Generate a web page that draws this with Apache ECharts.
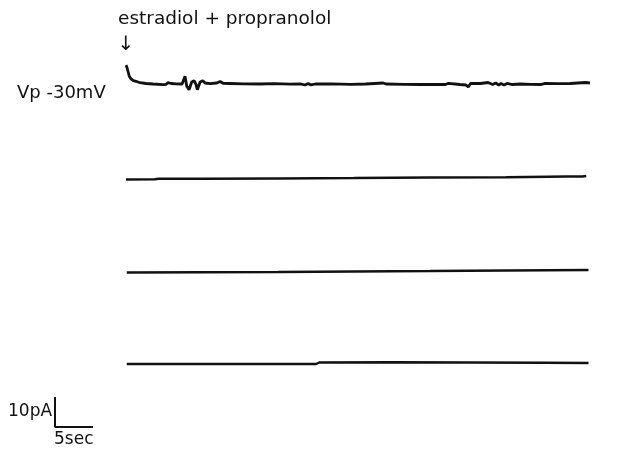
<!DOCTYPE html>
<html>
<head>
<meta charset="utf-8">
<script src="https://cdn.jsdelivr.net/npm/echarts@6/dist/echarts.min.js"></script>
<style>html,body{margin:0;padding:0;background:#fff}#c{width:624px;height:457px}</style>
</head>
<body>
<div id="c"></div>
<script>
// time in sec, current in pA (relative to each trace's baseline)
const trace1 = [[0,6.3],[0.13,5.5],[0.43,2.6],[0.66,1.7],[0.96,1.1],[1.32,0.9],[1.84,0.43],[2.63,0.17],[3.55,0],[4.87,-0.23],[5.26,-0.1],[5.53,0.43],[5.92,0.17],[6.18,0.23],[6.58,0.07],[6.84,0.67],[7.37,0],[7.76,2.57],[7.99,-0.77],[8.29,-1.9],[8.64,0.67],[8.95,1.1],[9.21,-0.23],[9.38,-1.9],[9.74,0.67],[10.09,1.1],[10.39,0.33],[11.05,0.1],[11.93,0.33],[12.37,0.83],[12.76,0.23],[13.68,0.17],[15.5,0.05],[17.6,0],[19.5,0.1],[21.6,-0.07],[22.9,0.07],[23.55,-0.33],[23.95,0.17],[24.3,-0.33],[24.9,0],[27.0,0.05],[29.5,-0.1],[31.5,0],[33.8,0.33],[34.2,0],[36.5,-0.1],[38.7,-0.17],[40.5,-0.1],[42,-0.17],[42.4,0.23],[43.9,-0.17],[44.7,-0.33],[45,-1],[45.3,0.17],[46.6,0.17],[47.6,0.5],[48.2,-0.17],[48.6,0.33],[49,-0.33],[49.3,0.17],[49.7,-0.33],[50.1,0.17],[50.8,-0.17],[51.8,0],[53.2,-0.1],[54.5,-0.17],[55.1,0.17],[56.8,0.1],[58.4,0.17],[60.4,0.5],[61,0.33]];
const trace2 = [[0,-0.2],[3.8,-0.1],[4.0,0.5],[4.3,0.1],[10,0.1],[20,0.2],[30,0.3],[40,0.5],[50,0.6],[58,0.8],[60,0.8],[60.5,1.0]];
const trace3 = [[0.1,-0.2],[10,-0.1],[20,0],[30,0.2],[40,0.3],[50,0.5],[60.8,0.67]];
const trace4 = [[0.1,0],[25,0.0],[25.4,0.5],[35,0.6],[45,0.5],[55,0.4],[60.8,0.3]];
const scaleBar = [[0,10],[0,0],[5,0]];
const labels = { drug: 'estradiol + propranolol', arrow: '↓', hold: 'Vp -30mV', amp: '10pA', time: '5sec' };

const traces = [trace1, trace2, trace3, trace4];
const tops = [54, 149, 242, 334];
const grids = [], xAxes = [], yAxes = [], series = [];
traces.forEach((d, i) => {
  grids.push({ left: 126, width: 464, top: tops[i], height: 45 });
  xAxes.push({ type: 'value', gridIndex: i, min: 0, max: 61, show: false });
  yAxes.push({ type: 'value', gridIndex: i, min: -5, max: 10, show: false });
  series.push({ type: 'line', xAxisIndex: i, yAxisIndex: i, data: d, symbol: 'none', silent: true,
    lineStyle: { color: '#111', width: i === 0 ? 2.8 : 2.5 } });
});
grids.push({ left: 55, width: 38, top: 397, height: 30 });
xAxes.push({ type: 'value', gridIndex: 4, min: 0, max: 5, show: false });
yAxes.push({ type: 'value', gridIndex: 4, min: 0, max: 10, show: false });
series.push({ type: 'line', xAxisIndex: 4, yAxisIndex: 4, data: scaleBar, symbol: 'none', silent: true,
  lineStyle: { color: '#111', width: 2 } });

const font = '"DejaVu Sans", sans-serif';
const chart = echarts.init(document.getElementById('c'));
chart.setOption({
  animation: false,
  backgroundColor: '#fff',
  grid: grids, xAxis: xAxes, yAxis: yAxes, series: series,
  graphic: [
    { type: 'text', style: { x: 118, y: 19, text: labels.drug, fontFamily: font, fontSize: 18.5, fill: '#111', verticalAlign: 'middle' } },
    { type: 'text', style: { x: 126, y: 45, text: labels.arrow, fontFamily: font, fontSize: 20, fill: '#111', align: 'center', verticalAlign: 'middle' } },
    { type: 'text', style: { x: 17, y: 93, text: labels.hold, fontFamily: font, fontSize: 18, fill: '#111', verticalAlign: 'middle' } },
    { type: 'text', style: { x: 8, y: 412, text: labels.amp, fontFamily: font, fontSize: 17, fill: '#111', verticalAlign: 'middle' } },
    { type: 'text', style: { x: 54, y: 440, text: labels.time, fontFamily: font, fontSize: 17, fill: '#111', verticalAlign: 'middle' } }
  ]
});
</script>
</body>
</html>
